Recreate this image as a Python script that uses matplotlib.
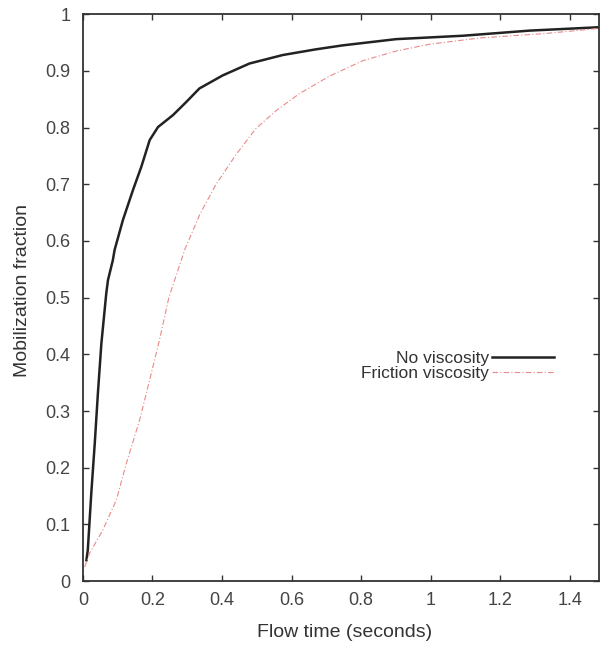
import matplotlib
matplotlib.use("Agg")
import matplotlib.pyplot as plt

plt.rcParams['font.family'] = ['Liberation Sans', 'DejaVu Sans']

# No viscosity curve
t_nov = [0.010, 0.014, 0.024, 0.034, 0.043, 0.053, 0.067, 0.072, 0.086, 0.091,
         0.115, 0.144, 0.168, 0.192, 0.216, 0.259, 0.297, 0.335, 0.402, 0.479,
         0.575, 0.670, 0.747, 0.901, 1.093, 1.284, 1.485]
m_nov = [0.037, 0.055, 0.155, 0.243, 0.331, 0.419, 0.507, 0.531, 0.566, 0.584,
         0.637, 0.690, 0.731, 0.778, 0.801, 0.822, 0.845, 0.869, 0.892, 0.913,
         0.928, 0.938, 0.945, 0.956, 0.962, 0.971, 0.977]

# Friction viscosity curve
t_fric = [0.005, 0.019, 0.057, 0.096, 0.125, 0.163, 0.192, 0.220, 0.247, 0.293,
          0.337, 0.383, 0.44, 0.497, 0.556, 0.623, 0.710, 0.805, 0.901, 0.997,
          1.141, 1.332, 1.485]
m_fric = [0.025, 0.049, 0.090, 0.143, 0.208, 0.284, 0.355, 0.425, 0.500, 0.585,
          0.648, 0.700, 0.752, 0.798, 0.830, 0.860, 0.891, 0.918, 0.935, 0.947,
          0.958, 0.966, 0.975]

xticks = [0, 0.2, 0.4, 0.6, 0.8, 1, 1.2, 1.4]
yticks = [0, 0.1, 0.2, 0.3, 0.4, 0.5, 0.6, 0.7, 0.8, 0.9, 1]

fig = plt.figure(figsize=(6.01, 6.45), dpi=100)
ax = fig.add_axes([0.138, 0.099, 0.859, 0.879])

ax.plot(t_nov, m_nov, color='#222222', lw=1.8, label='No viscosity')
ax.plot(t_fric, m_fric, color='#e88a8a', lw=0.8, ls=(0, (5, 2, 1, 2)), label='Friction viscosity')

ax.set_xlim(0, 1.485)
ax.set_ylim(0, 1)
ax.set_xticks(xticks)
ax.set_xticklabels([f"{v:g}" for v in xticks])
ax.set_yticks(yticks)
ax.set_yticklabels([f"{v:g}" for v in yticks])
ax.tick_params(direction='in', top=True, right=True, length=4, width=1,
               labelsize=13, colors='#333333', labelcolor='#444444')
ax.tick_params(axis='y', pad=9)
ax.tick_params(axis='x', pad=8)
for s in ax.spines.values():
    s.set_color('#333333')
    s.set_linewidth(1.3)

ax.set_xlabel('Flow time (seconds)', fontsize=14, color='#333333')
ax.set_ylabel('Mobilization fraction', fontsize=14, color='#333333')
ax.xaxis.set_label_coords(0.507, -0.075)
ax.yaxis.set_label_coords(-0.10, 0.513)

leg = ax.legend(loc='center right', bbox_to_anchor=(0.913, 0.379), frameon=False,
                fontsize=12.5, markerfirst=False, handlelength=3.6,
                handletextpad=0.15, labelspacing=0.0, borderpad=0,
                borderaxespad=0)
for txt in leg.get_texts():
    txt.set_ha('right')
    txt.set_color('#333333')
leg._legend_box.align = 'right'

fig.savefig('out.png', dpi=100)
